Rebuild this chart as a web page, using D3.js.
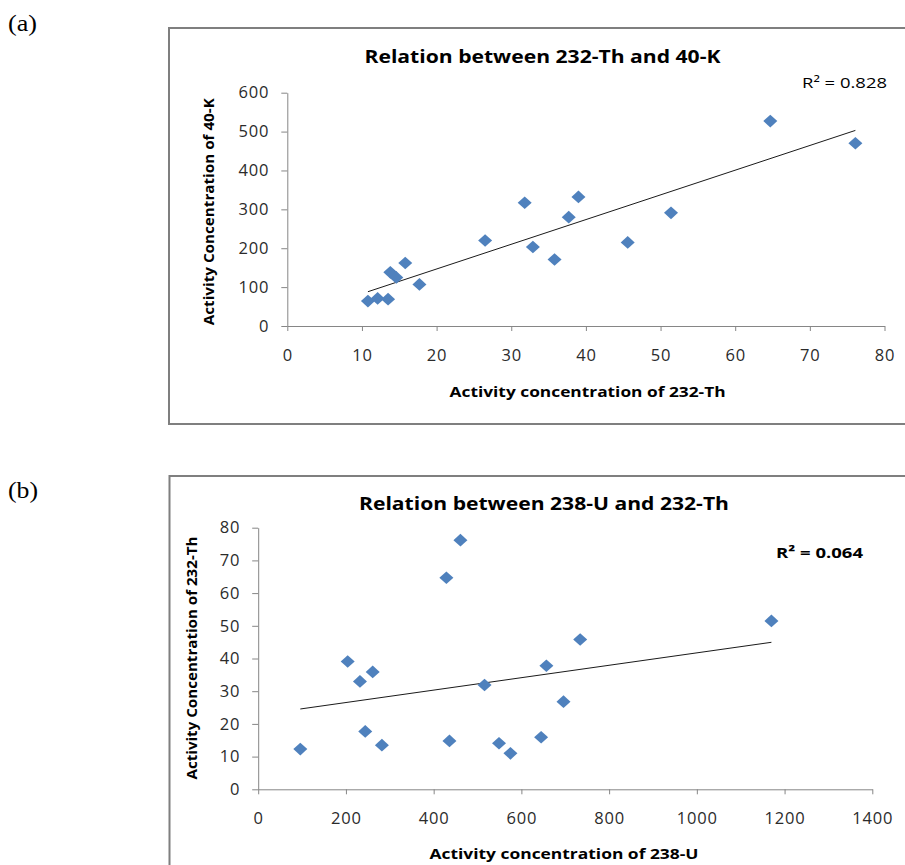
<!DOCTYPE html>
<html>
<head>
<meta charset="utf-8">
<script src="https://cdn.jsdelivr.net/npm/d3@7"></script>
<style>
    body { margin: 0; background: #fff; }
    svg { display: block; }
</style>
</head>
<body>
<script>
// (a) 232-Th against 40-K
var thA = [10.8, 12.1, 13.5, 13.8, 14.6, 15.8, 17.7, 26.5, 31.8, 32.9, 35.8, 37.7, 39.0, 45.6, 51.4, 64.7, 76.1];
var kA  = [64, 71, 69, 138, 125, 162, 107, 220, 317, 203, 171, 280, 332, 215, 291, 527, 470];
var xTicksA = [0, 10, 20, 30, 40, 50, 60, 70, 80];
var yTicksA = [0, 100, 200, 300, 400, 500, 600];

// (b) 238-U against 232-Th
var uB  = [96, 204, 232, 261, 244, 282, 429, 461, 436, 516, 549, 575, 645, 657, 696, 734, 1170];
var thB = [12.3, 39.1, 33.0, 35.9, 17.7, 13.5, 64.7, 76.2, 14.8, 31.9, 14.1, 11.0, 15.9, 37.8, 26.8, 45.8, 51.5];
var xTicksB = [0, 200, 400, 600, 800, 1000, 1200, 1400];
var yTicksB = [0, 10, 20, 30, 40, 50, 60, 70, 80];

var tags    = ['(a)', '(b)'];
var titles  = ['Relation between 232-Th and 40-K', 'Relation between 238-U and 232-Th'];
var xLabels = ['Activity concentration of 232-Th', 'Activity concentration of 238-U'];
var yLabels = ['Activity Concentration of 40-K', 'Activity Concentration of 232-Th'];
var r2Labels = ['R\u00b2 = 0.828', 'R\u00b2 = 0.064'];

;(function(win) {

    var FONT = '"Open Sans", "DejaVu Sans", sans-serif';

    // excel style diamond marker, a bit wider than tall
    var diamond = {
        draw: function(ctx) {
            ctx.moveTo(0, -6.3);
            ctx.lineTo(7, 0);
            ctx.lineTo(0, 6.3);
            ctx.lineTo(-7, 0);
            ctx.closePath();
        }
    };

    /**
     * One framed scatter panel with a linear trend line.
     * @param {object} svg    The root selection
     * @param {object} layout Positions of frame, plot and texts
     */
    function ScatterPanel(svg, layout) {
        this.svg = svg;
        this.layout = layout;
        this.g = svg.append('g');
    }

    ScatterPanel.prototype._drawFrame = function() {
        var f = this.layout.frame;
        this.g.append('rect')
            .attr('x', f.x).attr('y', f.y)
            .attr('width', f.w).attr('height', f.h)
            .style('fill', 'none')
            .style('stroke', '#7f7f7f')
            .style('stroke-width', 2);
    };

    ScatterPanel.prototype._drawAxes = function(xTicks, yTicks) {
        var _this = this,
            L = _this.layout,
            fmt = d3.format('d');

        var xAxis = d3.axisBottom(_this.x).tickValues(xTicks).tickFormat(fmt)
            .tickSizeInner(5).tickSizeOuter(0).tickPadding(18);
        var yAxis = d3.axisLeft(_this.y).tickValues(yTicks).tickFormat(fmt)
            .tickSizeInner(6).tickSizeOuter(0).tickPadding(12);

        var gx = _this.g.append('g')
            .attr('transform', 'translate(0,' + L.yRange[0] + ')')
            .call(xAxis);
        var gy = _this.g.append('g')
            .attr('transform', 'translate(' + L.xRange[0] + ',0)')
            .call(yAxis);

        [gx, gy].forEach(function(a) {
            a.selectAll('path, line').style('stroke', '#868686').style('stroke-width', 1);
            a.selectAll('text')
                .style('font-family', FONT)
                .style('font-size', '16.5px')
                .style('letter-spacing', '0.8px')
                .style('fill', '#2b2b2b');
        });
    };

    ScatterPanel.prototype._drawPoints = function(xs, ys) {
        var _this = this;
        _this.g.append('g').selectAll('path')
            .data(xs.map(function(v, i) { return [v, ys[i]]; }))
            .enter().append('path')
            .attr('d', d3.symbol(diamond)())
            .attr('transform', function(d) {
                return 'translate(' + _this.x(d[0]) + ',' + _this.y(d[1]) + ')';
            })
            .style('fill', '#4f81bd');
    };

    // least squares line over the range of the data
    ScatterPanel.prototype._drawTrend = function(xs, ys) {
        var mx = d3.mean(xs), my = d3.mean(ys), sxy = 0, sxx = 0;
        for (var i = 0, len = xs.length; i < len; i++) {
            sxy += (xs[i] - mx) * (ys[i] - my);
            sxx += (xs[i] - mx) * (xs[i] - mx);
        }
        var b = sxy / sxx, a = my - b * mx;
        var ext = d3.extent(xs);
        this.g.append('line')
            .attr('x1', this.x(ext[0])).attr('y1', this.y(a + b * ext[0]))
            .attr('x2', this.x(ext[1])).attr('y2', this.y(a + b * ext[1]))
            .style('stroke', '#1a1a1a')
            .style('stroke-width', 1);
    };

    ScatterPanel.prototype._text = function(str, p, opts) {
        var t = this.g.append('text')
            .text(str)
            .attr('x', p.x).attr('y', p.y)
            .attr('dy', '0.35em')
            .style('font-family', opts.family || FONT)
            .style('font-size', opts.size + 'px')
            .style('font-weight', opts.bold ? 'bold' : 'normal')
            .style('text-anchor', opts.anchor || 'middle')
            .style('fill', '#000');
        if (p.len) {
            t.attr('textLength', p.len).attr('lengthAdjust', 'spacingAndGlyphs');
        }
        if (opts.rotate) {
            t.attr('transform', 'rotate(-90,' + p.x + ',' + p.y + ')');
        }
        return t;
    };

    /**
     * Draw the whole panel.
     */
    ScatterPanel.prototype.show = function(d) {
        var L = this.layout;

        this.x = d3.scaleLinear().domain(d3.extent(d.xTicks)).range(L.xRange);
        this.y = d3.scaleLinear().domain(d3.extent(d.yTicks)).range(L.yRange);

        this._drawFrame();
        this._drawAxes(d.xTicks, d.yTicks);
        this._drawTrend(d.xs, d.ys);
        this._drawPoints(d.xs, d.ys);

        this._text(d.tag, L.tag, { size: 23, anchor: 'start', family: '"Liberation Serif", "Times New Roman", serif' });
        this._text(d.title, L.title, { size: 17, bold: true });
        this._text(d.r2, L.r2, { size: 15, bold: L.r2.bold, anchor: 'start' });
        this._text(d.xLabel, L.xLabel, { size: 15, bold: true });
        this._text(d.yLabel, L.yLabel, { size: 15, bold: true, rotate: true });
    };

    win.ScatterPanel = ScatterPanel;
})(window);

var svg = d3.select('body').append('svg')
    .attr('width', 905)
    .attr('height', 865)
    .style('background', '#fff');

var layouts = [
    {
        frame: { x: 169, y: 28, w: 760, h: 396 },
        xRange: [287.3, 884.5], yRange: [326, 92.7],
        tag: { x: 8, y: 23, len: 29 },
        title: { x: 542.5, y: 57.3, len: 356 },
        r2: { x: 802, y: 82.5, len: 85, bold: false },
        xLabel: { x: 587.6, y: 391.7, len: 276 },
        yLabel: { x: 209, y: 211.7, len: 227 }
    },
    {
        frame: { x: 169.5, y: 476, w: 760, h: 420 },
        xRange: [258.2, 872.3], yRange: [789.3, 527.7],
        tag: { x: 8, y: 490, len: 30 },
        title: { x: 544, y: 504.3, len: 370 },
        r2: { x: 776, y: 553, len: 87, bold: true },
        xLabel: { x: 564, y: 854, len: 269 },
        yLabel: { x: 192, y: 658, len: 243 }
    }
];

var panelData = [
    { xs: thA, ys: kA, xTicks: xTicksA, yTicks: yTicksA },
    { xs: uB, ys: thB, xTicks: xTicksB, yTicks: yTicksB }
];

panelData.forEach(function(d, i) {
    d.tag = tags[i];
    d.title = titles[i];
    d.xLabel = xLabels[i];
    d.yLabel = yLabels[i];
    d.r2 = r2Labels[i];
    new ScatterPanel(svg, layouts[i]).show(d);
});
</script>
</body>
</html>
